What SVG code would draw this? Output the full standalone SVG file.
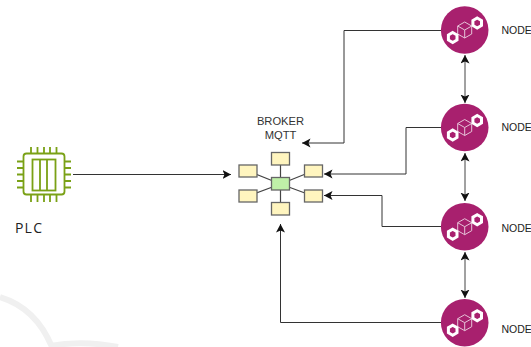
<svg xmlns="http://www.w3.org/2000/svg" width="531" height="347" viewBox="0 0 531 347">
<style>
text{font-family:"Liberation Sans",Arial,sans-serif;fill:#222}
.lab{font-size:10.5px}
.brk{font-size:11.2px;fill:#333}
.c{fill:none;stroke:#333;stroke-width:1}
.v{fill:none;stroke:#444;stroke-width:1}
.s{fill:#fff5bf;stroke:#666;stroke-width:1.3}
.g{fill:none;stroke:#7aa116;stroke-width:1.8}
.hub{fill:#a8206e}
.w{fill:none;stroke:#fff;stroke-width:3}
.t{fill:none;stroke:#e6c3d8;stroke-width:1}
</style>
<defs>
<marker id="a" markerWidth="10" markerHeight="10" refX="8.500" refY="4.500" orient="auto-start-reverse" markerUnits="userSpaceOnUse"><path d="M0 0L8.500 4.500L0 9L2 4.500Z" fill="#111"/></marker>
<g id="prism">
<circle r="23.800" class="hub"/>
<path class="t" d="M-7 4V-4L0 -8L7 -4V4L0 8ZM-7 -4L0 0L7 -4M0 0V8"/>
<path class="w" d="M-12 2.500L-7.700 5V10L-12 12.500L-16.300 10V5Z"/>
<path class="w" d="M12.500 -12L16.800 -9.500V-4.500L12.500 -2L8.200 -4.500V-9.500Z"/>
</g>
</defs>
<path d="M0 297Q36 308 52 347M50 346Q82 340 118 347" fill="none" stroke="#f0f0f0" stroke-width="6"/>
<g id="connectors">
<path class="c" d="M73 174.500H231" marker-end="url(#a)"/>
<path class="c" d="M441 30.500H344V143H302" marker-end="url(#a)"/>
<path class="c" d="M441 127.500H406V174H324" marker-end="url(#a)"/>
<path class="c" d="M441 226.500H382V195.500H324" marker-end="url(#a)"/>
<path class="c" d="M441 322.500H280.500V224" marker-end="url(#a)"/>
<path class="v" d="M465 55V103" marker-start="url(#a)" marker-end="url(#a)"/>
<path class="v" d="M465 153V201" marker-start="url(#a)" marker-end="url(#a)"/>
<path class="v" d="M465 252V298" marker-start="url(#a)" marker-end="url(#a)"/>
</g>
<g id="plc">
<rect x="23.500" y="153.500" width="41" height="41" rx="3" class="g"/>
<rect x="32.500" y="159.500" width="23" height="31" class="g"/>
<path class="g" d="M40 159.500V190.500M47 159.500V190.500M31 147V153.500M37.500 147V153.500M44 147V153.500M50 147V153.500M56.500 147V153.500M31 194.500V202M37.500 194.500V202M44 194.500V202M50 194.500V202M56.500 194.500V202M17 161.500H23.500M17 168H23.500M17 174.500H23.500M17 181H23.500M17 187.500H23.500M64.500 161.500H71M64.500 168H71M64.500 174.500H71M64.500 181H71M64.500 187.500H71"/>
<text x="15" y="233" style="font-family:'Open Sans',sans-serif;font-size:14px;letter-spacing:1.200px">PLC</text>
</g>
<g id="broker">
<text class="brk" x="280.500" y="125" text-anchor="middle">BROKER</text>
<text class="brk" x="280.500" y="138.500" text-anchor="middle">MQTT</text>
<path d="M280.500 184V160M280.500 184V208M280.500 184L248 171M280.500 184L248 196M280.500 184L313 171M280.500 184L313 196" stroke="#444" stroke-width="1.200"/>
<rect x="271.500" y="152.500" width="18" height="12.500" class="s"/>
<rect x="239" y="165" width="18" height="12" class="s"/>
<rect x="304.500" y="165" width="18" height="12" class="s"/>
<rect x="239" y="190" width="18" height="12" class="s"/>
<rect x="304.500" y="190" width="18" height="12" class="s"/>
<rect x="271.500" y="202.500" width="18" height="12.500" class="s"/>
<rect x="271.500" y="177.500" width="18" height="12.500" fill="#bff0a8" stroke="#666" stroke-width="1.300"/>
</g>
<g id="node1"><use href="#prism" x="464.700" y="30"/><text class="lab" x="501.500" y="34">NODE</text></g>
<g id="node2"><use href="#prism" x="464.700" y="127.500"/><text class="lab" x="501.500" y="131">NODE</text></g>
<g id="node3"><use href="#prism" x="464.700" y="226.700"/><text class="lab" x="501.500" y="232">NODE</text></g>
<g id="node4"><use href="#prism" x="464.700" y="322.700"/><text class="lab" x="501.500" y="333">NODE</text></g>
</svg>
